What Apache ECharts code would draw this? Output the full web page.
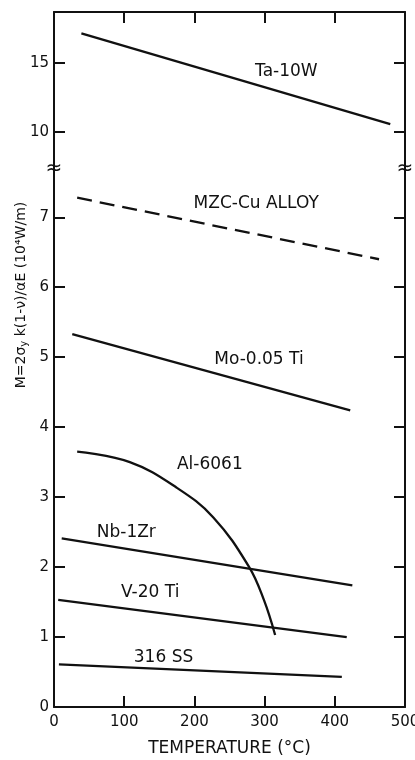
<!DOCTYPE html>
<html>
<head>
<meta charset="utf-8">
<script src="https://cdn.jsdelivr.net/npm/echarts@6/dist/echarts.min.js"></script>
<style>
  html, body { margin: 0; padding: 0; background: #fff; }
  #chart { width: 415px; height: 760px; }
</style>
</head>
<body>
<div id="chart"></div>
<script>
// values: [temperature degC, M in 10^4 W/m]
var ta10w   = [[39, 17.15], [479, 10.58]];
var mzcCu   = [[33, 7.28], [463, 6.40]];
var mo005Ti = [[26, 5.33], [422, 4.24]];
var al6061  = [[33, 3.65], [108, 3.50], [174, 3.14], [227, 2.71], [278, 2.00], [299, 1.53], [315, 1.03]];
var nb1Zr   = [[11, 2.41], [425, 1.74]];
var v20Ti   = [[6, 1.53], [417, 1.00]];
var ss316   = [[7, 0.61], [410, 0.43]];

var xTicks = [100, 200, 300, 400];
var xLabels = [0, 100, 200, 300, 400, 500];
var upperTicks = [10, 15];
var lowerTicks = [0, 1, 2, 3, 4, 5, 6, 7];

// curve names and where their labels sit
var upperNames = ['Ta-10W'];
var upperLabelAt = [[331, 14.35]];
var lowerNames = ['MZC-Cu ALLOY', 'Mo-0.05 Ti', 'Al-6061', 'Nb-1Zr', 'V-20 Ti', '316 SS'];
var lowerLabelAt = [[288, 7.19], [292, 4.96], [222, 3.46], [103, 2.49], [137, 1.63], [156, 0.71]];

var ink = '#111';
var font = 'DejaVu Sans';
var upperMin = 7.32, upperMax = 18.7, lowerMax = 7.69;

var chart = echarts.init(document.getElementById('chart'));

function xAx(grid, pos, showLabels) {
  return {
    type: 'value', gridIndex: grid, position: pos, min: 0, max: 500,
    axisLine: { show: true, onZero: false, lineStyle: { color: ink, width: 2 } },
    axisTick: { show: true, inside: true, length: 11, customValues: xTicks, lineStyle: { color: ink, width: 2 } },
    axisLabel: { show: showLabels, customValues: xLabels, margin: 8, color: ink, fontSize: 15, fontFamily: font },
    splitLine: { show: false }
  };
}
function yAx(grid, pos, min, max, ticks, showLabels) {
  return {
    type: 'value', gridIndex: grid, position: pos, min: min, max: max,
    axisLine: { show: true, onZero: false, lineStyle: { color: ink, width: 2 } },
    axisTick: { show: true, inside: true, length: 11, customValues: ticks, lineStyle: { color: ink, width: 2 } },
    axisLabel: { show: showLabels, customValues: ticks, margin: 5, color: ink, fontSize: 15, fontFamily: font },
    splitLine: { show: false }
  };
}
function curve(data, xi, yi, dashed, smooth) {
  return {
    type: 'line', xAxisIndex: xi, yAxisIndex: yi, data: data, symbol: 'none', smooth: smooth ? 0.4 : false,
    lineStyle: { color: ink, width: 2.3, type: dashed ? [15, 8] : 'solid' }
  };
}
function labels(names, at, xi, yi) {
  return {
    type: 'scatter', xAxisIndex: xi, yAxisIndex: yi, symbolSize: 0, silent: true,
    data: at.map(function (p, i) { return [p[0], p[1], names[i]]; }),
    label: {
      show: true, position: 'inside', color: ink, opacity: 1, fontSize: 17, fontFamily: font,
      formatter: function (p) { return p.data[2]; }
    }
  };
}

chart.setOption({
  animation: false,
  backgroundColor: '#fff',
  grid: [
    { left: 54, right: 10, top: 12, height: 157, outerBoundsMode: 'none' },
    { left: 54, right: 10, top: 169, height: 538, outerBoundsMode: 'none' }
  ],
  xAxis: [
    xAx(0, 'top', false),
    Object.assign(xAx(1, 'bottom', true), {
      name: 'TEMPERATURE (°C)', nameLocation: 'middle', nameGap: 33,
      nameTextStyle: { color: ink, fontSize: 17, fontFamily: font }
    })
  ],
  yAxis: [
    yAx(0, 'left', upperMin, upperMax, upperTicks, true),
    yAx(0, 'right', upperMin, upperMax, upperTicks, false),
    yAx(1, 'left', 0, lowerMax, lowerTicks, true),
    yAx(1, 'right', 0, lowerMax, lowerTicks, false)
  ],
  series: [
    curve(ta10w, 0, 0, false),
    curve(mzcCu, 1, 2, true),
    curve(mo005Ti, 1, 2, false),
    curve(al6061, 1, 2, false, true),
    curve(nb1Zr, 1, 2, false),
    curve(v20Ti, 1, 2, false),
    curve(ss316, 1, 2, false),
    labels(upperNames, upperLabelAt, 0, 0),
    labels(lowerNames, lowerLabelAt, 1, 2)
  ]
});

// axis break marks and the rotated y title
var breakY = chart.convertToPixel({ yAxisIndex: 2 }, lowerMax);
var leftX = chart.convertToPixel({ xAxisIndex: 1 }, 0);
var rightX = chart.convertToPixel({ xAxisIndex: 1 }, 500);
function breakMark(x) {
  return {
    type: 'group', x: x, y: breakY,
    children: [
      { type: 'rect', shape: { x: -6, y: -6, width: 12, height: 12 }, style: { fill: '#fff' } },
      { type: 'text', style: { text: '≈', x: 0, y: 0, align: 'center', verticalAlign: 'middle', fontSize: 20, fill: ink, fontFamily: font } }
    ]
  };
}
chart.setOption({
  graphic: [
    breakMark(leftX),
    breakMark(rightX),
    {
      type: 'text', x: 21, y: 295, rotation: Math.PI / 2,
      style: {
        text: 'M=2σ{s|y} k(1-ν)/αE (10⁴W/m)',
        align: 'center', verticalAlign: 'middle', fontSize: 14, fill: ink, fontFamily: font,
        rich: { s: { fontSize: 10, padding: [7, 0, 0, 0], verticalAlign: 'bottom', fill: ink, fontFamily: font } }
      }
    }
  ]
});
</script>
</body>
</html>
